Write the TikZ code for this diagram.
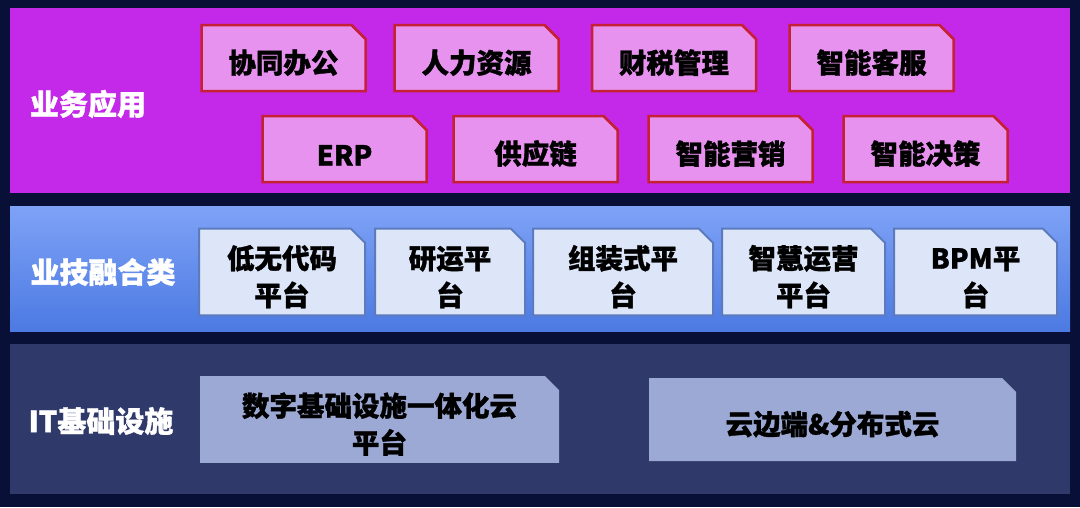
\documentclass[tikz,border=0pt]{standalone}
\usepackage{fontspec}
\setmainfont{Noto Sans CJK SC}[BoldFeatures={FakeBold=1.2}]
\usetikzlibrary{shapes.misc}
\definecolor{bgnavy}{RGB}{9,16,56}
\definecolor{apppurple}{RGB}{196,40,232}
\definecolor{apppink}{RGB}{232,146,240}
\definecolor{appred}{RGB}{198,32,52}
\definecolor{midtop}{RGB}{126,162,246}
\definecolor{midbot}{RGB}{76,122,226}
\definecolor{midbox}{RGB}{220,230,248}
\definecolor{midline}{RGB}{92,122,190}
\definecolor{itband}{RGB}{48,58,106}
\definecolor{itbox}{RGB}{156,169,212}
\newcommand{\lift}{\rule{0pt}{33pt}}

\begin{document}
\begin{tikzpicture}[x=1pt,y=-1pt,
 box/.style={chamfered rectangle, chamfered rectangle corners=north east,
  chamfered rectangle xsep=7pt, chamfered rectangle ysep=7pt,
  inner sep=0pt, align=center, font=\fontsize{27.5}{37}\selectfont\bfseries},
 appbox/.style={box, fill=apppink, draw=appred, line width=2.5pt,
  minimum width=164pt, minimum height=66pt},
 midbox/.style={box, fill=midbox, draw=midline, line width=2pt,
  minimum height=82pt},
 itbox/.style={box, fill=itbox, minimum height=83pt},
 layer/.style={text=white, font=\fontsize{29}{36}\selectfont\bfseries}]
\useasboundingbox (0,0) rectangle (1080,507);
\fill[bgnavy] (0,0) rectangle (1080,507);

\fill[apppurple] (10,8) rectangle (1070,193);
\fill[top color=midtop, bottom color=midbot] (10,206) rectangle (1070,331);
\fill[itband] (10,344) rectangle (1070,494);

\node[layer] (app) at (88,104) {业务应用};
\node[layer] (mix) at (103,272) {业技融合类};
\node[layer] (it) at (101,421) {IT基础设施};

\foreach \nm/\x/\txt in {oa/283.5/协同办公, hr/476.5/人力资源, fin/674/财税管理, cs/871.5/智能客服}
 \node[appbox] (\nm) at (\x,58) {\lift{}\txt};
\foreach \nm/\x/\txt in {erp/344.5/ERP, scm/535.5/供应链, mkt/730.5/智能营销, dec/925.5/智能决策}
 \node[appbox] (\nm) at (\x,149) {\lift{}\txt};

\foreach \nm/\x/\w/\txt in {lcode/282/166/低无代码\\平台, devops/450/150/研运平\\台,
  asm/623/180/组装式平\\台, ops/803.5/163/智慧运营\\平台, bpm/975.5/163/BPM平\\台}
 \node[midbox, minimum width=\w pt] (\nm) at (\x,272) {\lift{}\txt};

\node[itbox, minimum width=359pt] (cloud) at (379.5,419.5) {\lift{}数字基础设施一体化云\\平台};
\node[itbox, minimum width=367pt] (edge) at (832.5,419.5) {\lift{}云边端\&分布式云};
\end{tikzpicture}
\end{document}
